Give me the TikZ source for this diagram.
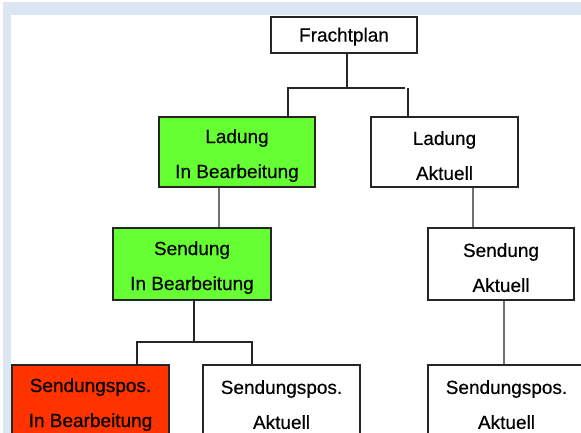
\documentclass[tikz,border=0pt]{standalone}
\usepackage{fontspec}
\setmainfont{Liberation Sans}
\newfontfamily\kastenfont[FakeBold=0.4]{Liberation Sans}
\usepackage{tikz}

\definecolor{ladegruen}{RGB}{102,255,51}
\definecolor{posrot}{RGB}{255,51,0}
\definecolor{randblau}{RGB}{220,230,242}
\newcommand{\hoch}{\rule{0pt}{21bp}}

\begin{document}
\begin{tikzpicture}[x=1bp,y=-1bp,
  kasten/.style={draw=black!85,line width=1.2bp,rectangle,inner sep=0pt,align=center,
    font=\kastenfont\fontsize{19bp}{35bp}\selectfont},
  verb/.style={draw=black!85,line width=1.2bp}]
\path[use as bounding box,clip] (0,0) rectangle (581,433);
\fill[white] (0,0) rectangle (581,433);
\fill[randblau] (3,2) rectangle (581,15);
\fill[randblau] (3,2) rectangle (11,433);

\node [kasten,minimum width=146bp,minimum height=36bp] (fracht) at(344,35){\rule{0pt}{17bp}Frachtplan};

\node [kasten,fill=ladegruen,minimum width=156bp,minimum height=70bp] (ladib) at(237,152){\hoch Ladung\\In Bearbeitung};
\node [kasten,minimum width=147bp,minimum height=70bp] (ladakt) at(444.5,152){\hoch Ladung\\Aktuell};

\node [kasten,fill=ladegruen,minimum width=158bp,minimum height=72bp] (sendib) at(192,264){\hoch Sendung\\In Bearbeitung};
\node [kasten,minimum width=146bp,minimum height=72bp] (sendakt) at(501,264){\hoch Sendung\\Aktuell};

\node [kasten,fill=posrot,minimum width=157bp,minimum height=72bp] (posib) at(90.5,401){\hoch Sendungspos.\\In Bearbeitung};
\node [kasten,minimum width=157bp,minimum height=72bp] (posmitte) at(281.5,401){\hoch Sendungspos.\\Aktuell};
\node [kasten,minimum width=157bp,minimum height=72bp] (posakt) at(506.5,401){\hoch Sendungspos.\\Aktuell};

%\draw[verb](fracht) -- (ladib);
\coordinate (gabel1) at (347,88);
\coordinate (gabel1l) at (288,88);
\coordinate (gabel1r) at (405,88);
\coordinate (gabel1rr) at (408,88);
\draw[verb](fracht.south -| gabel1) -- (gabel1);
\draw[verb](ladib.north -| gabel1l) |- (gabel1r);
\draw[verb](gabel1rr) -- (ladakt.north -| gabel1rr);

\draw[verb]([xshift=-18bp]ladib.south) -- ([xshift=27bp]sendib.north);
\draw[verb]([xshift=28.5bp]ladakt.south) -- ([xshift=-28bp]sendakt.north);

\coordinate (gabel2) at (194,342);
\coordinate (gabel2l) at (137,342);
\coordinate (gabel2r) at (252,342);
\draw[verb](sendib.south -| gabel2) -- (gabel2);
\draw[verb](posib.north -| gabel2l) |- (gabel2r) -- (posmitte.north -| gabel2r);

\draw[verb]([xshift=3bp]sendakt.south) -- ([xshift=-2.5bp]posakt.north);

\end{tikzpicture}
\end{document}
